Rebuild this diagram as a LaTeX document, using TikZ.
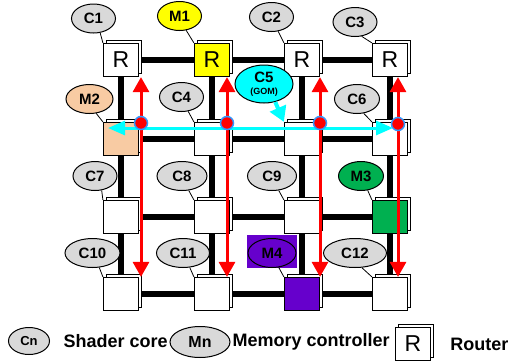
\documentclass[tikz,border=0pt]{standalone}
\usepackage{fontspec}
\setmainfont{Liberation Sans}
\usetikzlibrary{arrows.meta,positioning,shadows,shapes.geometric,backgrounds}
\definecolor{coregray}{RGB}{217,217,217}
\definecolor{memyellow}{RGB}{255,255,0}
\definecolor{mempeach}{RGB}{248,203,163}
\definecolor{memgreen}{RGB}{0,176,80}
\definecolor{mempurple}{RGB}{102,0,204}
\definecolor{gomcyan}{RGB}{0,255,255}
\definecolor{dotblue}{RGB}{51,153,255}
\tikzset{
  routerbox/.style={draw, line width=1.2pt, fill=white, minimum width=35pt, minimum height=33pt, inner sep=0pt,
    font=\fontsize{23}{23}\selectfont,
    copy shadow={shadow xshift=3pt, shadow yshift=3pt, draw=black, fill=white, line width=1.2pt}},
  rr12/.style={fill=memyellow},
  rr21/.style={fill=mempeach},
  rr34/.style={fill=memgreen},
  rr43/.style={fill=mempurple},
  corenode/.style={ellipse, draw, line width=1pt, fill=coregray, minimum width=44pt, minimum height=29pt, inner sep=0pt,
    font=\fontsize{15}{15}\selectfont\bfseries},
  link/.style={line width=6pt, black},
  redarrow/.style={red, line width=3pt, {Triangle[width=16pt,length=15pt]}-{Triangle[width=16pt,length=15pt]}},
  gomline/.style={gomcyan, line width=3pt, {Triangle[width=14pt,length=17pt]}-{Triangle[width=14pt,length=17pt]}},
  gomarrow/.style={gomcyan, line width=4pt, -{Triangle[width=17pt,length=15pt]}},
  dotnode/.style={circle, fill=red, draw=dotblue, line width=1.5pt, minimum size=13pt, inner sep=0pt},
  legendtext/.style={inner sep=0pt, font=\fontsize{18}{18}\selectfont\bfseries}
}
\begin{document}
\begin{tikzpicture}[x=1pt, y=-1pt]
  \useasboundingbox (0,0) rectangle (509,362);
  % routers
  \foreach \row/\y in {1/60,2/139,3/217,4/294}
    \foreach \col/\x in {1/121,2/212,3/302,4/390}
      \node[routerbox, rr\row\col/.try] (r\row\col) at (\x,\y) {\ifnum\row=1 R\fi};
  % mesh links
  \begin{scope}[on background layer]
    \foreach \i in {1,...,4} {
      \draw[link] (r\i1) -- (r\i4);
      \draw[link] (r1\i) -- (r4\i);
    }
  \end{scope}
  % cores and memory controllers
  \node[corenode] (c1) at (93.5,18.5) {C1};
  \node[corenode, fill=memyellow] (m1) at (179.5,16) {M1};
  \node[corenode] (c2) at (271.5,17) {C2};
  \node[corenode] (c3) at (355,22) {C3};
  \node[corenode, fill=mempeach, minimum width=47pt] (m2) at (89.5,99) {M2};
  \node[corenode] (c4) at (181.5,97) {C4};
  \node[corenode, fill=gomcyan, minimum width=58pt, minimum height=38pt, align=center] (c5) at (264,84)
    {C5\\[-3pt]{\fontsize{9}{9}\selectfont(GOM)}};
  \node[corenode, minimum width=45pt] (c6) at (357,99) {C6};
  \node[corenode] (c7) at (95,176) {C7};
  \node[corenode, minimum width=50pt] (c8) at (182,176) {C8};
  \node[corenode, minimum width=49pt] (c9) at (272,176) {C9};
  \node[corenode, fill=memgreen, minimum width=45pt] (m3) at (361,176) {M3};
  \node[corenode, minimum width=55pt] (c10) at (92.5,253) {C10};
  \node[corenode, minimum width=53pt] (c11) at (183,253) {C11};
  \node[fill=mempurple, minimum width=50pt, minimum height=33pt] (m4bg) at (272,251.5) {};
  \node[corenode, fill=mempurple, minimum width=48pt] (m4) at (272,253) {M4};
  \node[corenode, minimum width=63pt] (c12) at (355,253) {C12};
  \foreach \n/\r in {c1/r11, m1/r12, c2/r13, c3/r14, m2/r21, c4/r22, c6/r24,
                     c7/r31, c8/r32, c9/r33, m3/r34, c10/r41, c11/r42, m4/r43, c12/r44}
    \draw[line width=0.8pt] (\n.-65) -- (\r.north west);
  % paths
  \coordinate (d1) at (141,123);
  \coordinate (d2) at (227,123);
  \coordinate (d3) at (320,123);
  \coordinate (d4) at (398,124);
  \coordinate (gl) at (108,128);
  \coordinate (gr) at (393,128);
  \foreach \k in {1,...,4}
    \draw[redarrow] (d\k |- r1\k.south) -- (d\k |- r4\k.north);
  \draw[gomline] (gl) -- (gr);
  \foreach \k in {1,...,4}
    \node[dotnode] (dot\k) at (d\k) {};
  \draw[gomarrow] (c5.-58) -- (r23.north west);
  % legend
  \node[corenode, minimum width=41pt, minimum height=27pt, font=\fontsize{13}{13}\selectfont\bfseries] (lc) at (29,341) {Cn};
  \node[legendtext, right=13.5pt of lc] (lct) {Shader core};
  \node[corenode, minimum width=60pt, minimum height=31pt, font=\fontsize{16}{16}\selectfont\bfseries] (lm) at (200,342) {Mn};
  \node[legendtext, right=2pt of lm] (lmt) {Memory controller};
  \node[routerbox] (lr) at (413,344) {R};
  \node[legendtext, right=19pt of lr] (lrt) {Router};
\end{tikzpicture}
\end{document}
